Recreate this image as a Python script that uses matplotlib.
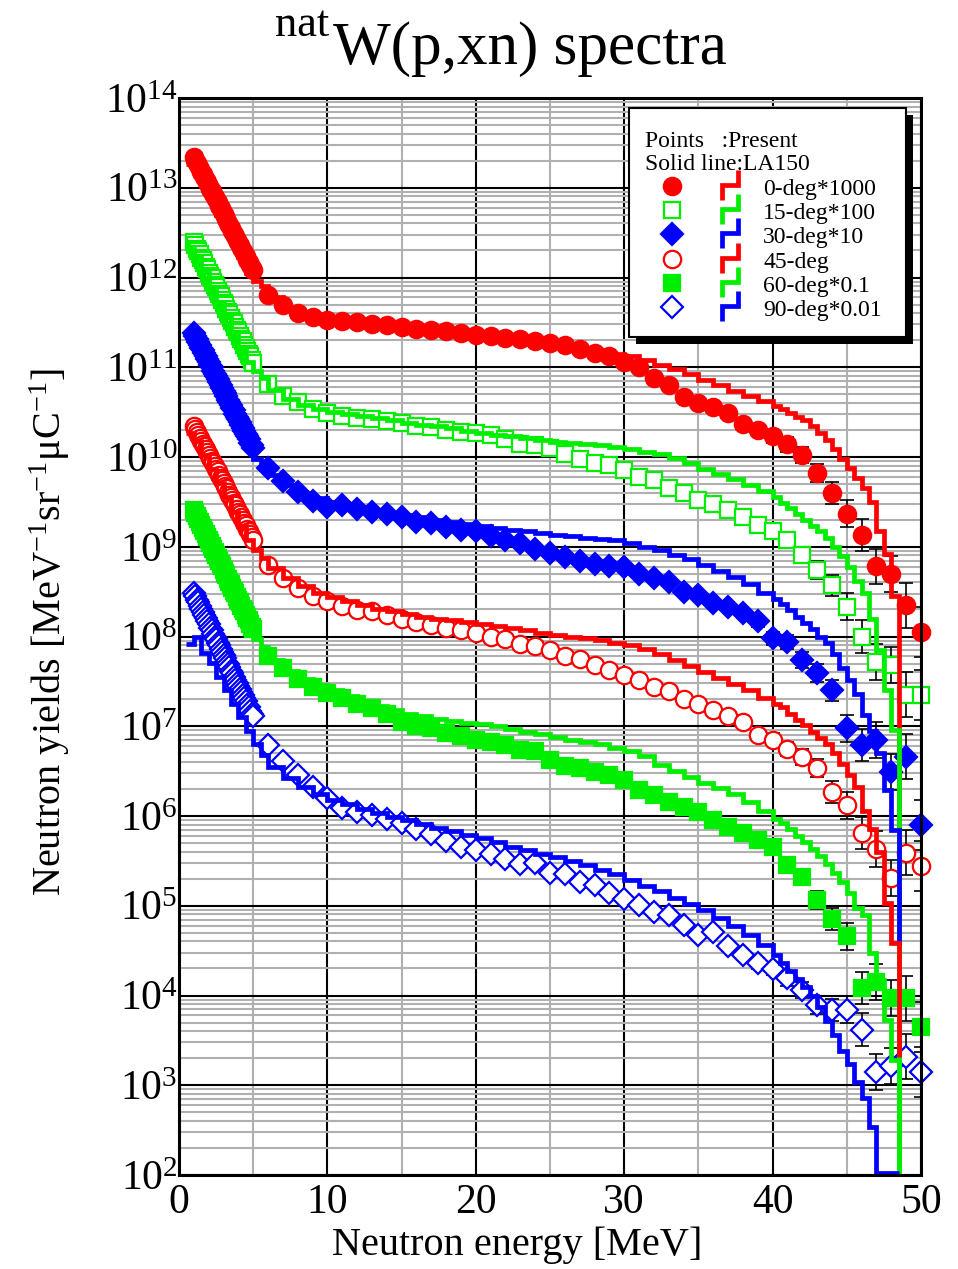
import numpy as np
import matplotlib
matplotlib.use("Agg")
import matplotlib.pyplot as plt
from matplotlib.ticker import LogLocator, FuncFormatter, MultipleLocator, NullFormatter
from matplotlib.patches import Rectangle

plt.rcParams['font.family'] = ['Liberation Serif', 'DejaVu Serif']
plt.rcParams['mathtext.fontset'] = 'custom'
plt.rcParams['mathtext.rm'] = 'Liberation Serif'
plt.rcParams['mathtext.it'] = 'Liberation Serif:italic'

# ---- measured points (log10 of plotted yield, already scaled) ----
e_low = np.arange(1.0, 5.001, 0.1)   # dense bins below 5 MeV
e_high = np.arange(6, 51)            # 1 MeV bins

p0_lo = [13.34, 13.31, 13.28, 13.25, 13.21, 13.18, 13.15, 13.12, 13.09, 13.06,
         13.02, 12.99, 12.96, 12.93, 12.90, 12.87, 12.84, 12.80, 12.77, 12.74,
         12.71, 12.68, 12.65, 12.61, 12.58, 12.55, 12.52, 12.49, 12.46, 12.42,
         12.39, 12.36, 12.33, 12.30, 12.27, 12.24, 12.20, 12.17, 12.14, 12.11, 12.08]
p15_lo = [12.39, 12.36, 12.32, 12.29, 12.26, 12.22, 12.19, 12.16, 12.12, 12.09,
          12.05, 12.02, 11.99, 11.95, 11.92, 11.89, 11.85, 11.82, 11.79, 11.75,
          11.72, 11.69, 11.65, 11.62, 11.59, 11.55, 11.52, 11.49, 11.45, 11.42,
          11.39, 11.35, 11.32, 11.29, 11.25, 11.22, 11.18, 11.15, 11.12, 11.08, 11.05]
p30_lo = [11.38, 11.35, 11.32, 11.28, 11.25, 11.22, 11.19, 11.16, 11.12, 11.09,
          11.06, 11.03, 11.00, 10.96, 10.93, 10.90, 10.87, 10.84, 10.80, 10.77,
          10.74, 10.71, 10.68, 10.64, 10.61, 10.58, 10.55, 10.52, 10.48, 10.45,
          10.42, 10.39, 10.36, 10.32, 10.29, 10.26, 10.23, 10.20, 10.16, 10.13, 10.10]
p45_lo = [10.34, 10.31, 10.28, 10.25, 10.21, 10.18, 10.15, 10.12, 10.09, 10.06,
          10.02, 9.99, 9.96, 9.93, 9.90, 9.87, 9.84, 9.80, 9.77, 9.74,
          9.71, 9.68, 9.65, 9.61, 9.58, 9.55, 9.52, 9.49, 9.46, 9.42,
          9.39, 9.36, 9.33, 9.30, 9.27, 9.24, 9.20, 9.17, 9.14, 9.11, 9.08]
p60_lo = [9.41, 9.38, 9.34, 9.31, 9.28, 9.24, 9.21, 9.18, 9.14, 9.11,
          9.08, 9.04, 9.01, 8.98, 8.94, 8.91, 8.88, 8.84, 8.81, 8.78,
          8.74, 8.71, 8.68, 8.64, 8.61, 8.58, 8.54, 8.51, 8.48, 8.44,
          8.41, 8.38, 8.34, 8.31, 8.28, 8.24, 8.21, 8.18, 8.14, 8.11, 8.08]
p90_lo = [8.48, 8.45, 8.41, 8.38, 8.34, 8.31, 8.27, 8.24, 8.21, 8.17,
          8.14, 8.10, 8.07, 8.03, 8.00, 7.97, 7.93, 7.90, 7.86, 7.83,
          7.79, 7.76, 7.72, 7.69, 7.66, 7.62, 7.59, 7.55, 7.52, 7.48,
          7.45, 7.42, 7.38, 7.35, 7.31, 7.28, 7.24, 7.21, 7.17, 7.14, 7.11]

p0_hi = [11.81, 11.69, 11.61, 11.56, 11.53, 11.52, 11.50, 11.48, 11.47, 11.45,
         11.43, 11.42, 11.40, 11.38, 11.36, 11.35, 11.33, 11.31, 11.29, 11.27,
         11.25, 11.20, 11.16, 11.12, 11.06, 11.00, 10.88, 10.80, 10.67, 10.60,
         10.56, 10.49, 10.37, 10.30, 10.23, 10.14, 10.02, 9.82, 9.60, 9.37,
         9.13, 8.78, 8.70, 8.35, 8.05]
p15_hi = [10.81, 10.68, 10.61, 10.53, 10.49, 10.46, 10.43, 10.42, 10.40, 10.38,
          10.35, 10.33, 10.30, 10.28, 10.27, 10.25, 10.20, 10.15, 10.13, 10.10,
          10.03, 9.98, 9.93, 9.91, 9.86, 9.78, 9.74, 9.65, 9.60, 9.52,
          9.48, 9.41, 9.33, 9.24, 9.17, 9.08, 8.91, 8.74, 8.57, 8.33,
          8.00, 7.72, 7.68, 7.35, 7.35]
p30_hi = [9.88, 9.73, 9.61, 9.51, 9.44, 9.46, 9.42, 9.39, 9.37, 9.33,
          9.28, 9.26, 9.22, 9.19, 9.18, 9.12, 9.08, 9.04, 8.97, 8.93,
          8.89, 8.84, 8.81, 8.79, 8.77, 8.70, 8.65, 8.61, 8.50, 8.46,
          8.37, 8.33, 8.26, 8.17, 7.98, 7.94, 7.74, 7.59, 7.40, 6.98,
          6.79, 6.85, 6.49, 6.66, 5.90]
p45_hi = [8.80, 8.65, 8.54, 8.45, 8.39, 8.34, 8.30, 8.28, 8.24, 8.20,
          8.16, 8.13, 8.09, 8.07, 8.04, 8.00, 7.97, 7.92, 7.89, 7.85,
          7.78, 7.75, 7.68, 7.63, 7.57, 7.52, 7.44, 7.39, 7.30, 7.25,
          7.18, 7.11, 7.05, 6.90, 6.85, 6.75, 6.66, 6.53, 6.27, 6.12,
          5.81, 5.63, 5.31, 5.59, 5.44]
p60_hi = [7.78, 7.65, 7.53, 7.44, 7.37, 7.31, 7.25, 7.20, 7.14, 7.05,
          7.00, 6.98, 6.93, 6.89, 6.85, 6.83, 6.79, 6.74, 6.72, 6.62,
          6.56, 6.53, 6.49, 6.46, 6.40, 6.29, 6.23, 6.16, 6.10, 6.05,
          5.96, 5.88, 5.81, 5.73, 5.66, 5.45, 5.32, 5.06, 4.85, 4.66,
          4.08, 4.15, 3.97, 3.97, 3.65]
p90_hi = [6.79, 6.61, 6.46, 6.32, 6.20, 6.09, 6.05, 6.01, 5.97, 5.92,
          5.86, 5.80, 5.72, 5.66, 5.62, 5.58, 5.52, 5.46, 5.48, 5.37,
          5.35, 5.27, 5.23, 5.14, 5.08, 5.01, 4.93, 4.90, 4.79, 4.67,
          4.71, 4.55, 4.45, 4.36, 4.30, 4.19, 4.06, 3.89, 3.84, 3.84,
          3.62, 3.15, 3.21, 3.32, 3.15]

# error half width in decades for the 1 MeV points
err_dex = [0, 0, 0, 0, 0, 0, 0, 0, 0, 0,
           0, 0, 0, 0, 0, 0, 0, 0, 0, 0,
           0, 0, 0, 0, 0, 0, 0, 0, 0.03, 0.03,
           0.04, 0.05, 0.05, 0.06, 0.07, 0.08, 0.09, 0.10, 0.12, 0.15,
           0.18, 0.20, 0.20, 0.25, 0.28]

# ---- LA150 histograms: bin edges and log10 values (last value = end of line) ----
la_edges = np.r_[np.arange(0.5, 6.01, 0.5), np.arange(7, 40.01, 1), np.arange(40.5, 48.51, 0.5)]

la0 = [13.27, 13.18, 13.02, 12.86, 12.70, 12.55, 12.39, 12.23, 12.05, 11.96, 11.91,
       11.78, 11.66, 11.59, 11.55, 11.52, 11.50, 11.49, 11.47, 11.46, 11.44, 11.43, 11.41,
       11.40, 11.38, 11.36, 11.35, 11.33, 11.31, 11.29, 11.27, 11.25, 11.22, 11.19, 11.15,
       11.12, 11.08, 11.03, 10.98, 10.92, 10.86, 10.80, 10.74, 10.68, 10.62,
       10.57, 10.53, 10.49, 10.45, 10.41, 10.35, 10.27, 10.19, 10.09, 9.98, 9.88, 9.77,
       9.66, 9.50, 9.18, 8.92, 8.45,
       3.32]
la15 = [12.32, 12.23, 12.06, 11.89, 11.72, 11.56, 11.39, 11.22, 11.06, 10.96, 10.88,
        10.75, 10.65, 10.58, 10.53, 10.50, 10.48, 10.46, 10.43, 10.41, 10.38, 10.36, 10.34,
        10.32, 10.29, 10.27, 10.25, 10.23, 10.21, 10.19, 10.17, 10.16, 10.14, 10.13, 10.11,
        10.09, 10.06, 10.03, 9.99, 9.93, 9.87, 9.81, 9.75, 9.69, 9.62,
        9.55, 9.49, 9.43, 9.36, 9.30, 9.23, 9.17, 9.10, 9.00, 8.90, 8.77, 8.62,
        8.48, 8.20, 7.85, 7.40, 6.96,
        1.0]
la30 = [11.31, 11.22, 11.06, 10.90, 10.74, 10.58, 10.42, 10.26, 10.10, 9.98, 9.91,
        9.80, 9.69, 9.60, 9.54, 9.50, 9.47, 9.44, 9.41, 9.38, 9.35, 9.33, 9.30,
        9.28, 9.25, 9.23, 9.21, 9.19, 9.17, 9.15, 9.13, 9.12, 9.10, 9.09, 9.07,
        9.04, 9.00, 8.96, 8.91, 8.86, 8.80, 8.73, 8.66, 8.58, 8.49,
        8.42, 8.36, 8.30, 8.22, 8.15, 8.08, 8.00, 7.93, 7.80, 7.65, 7.52, 7.36,
        7.12, 6.95, 6.70, 6.29, 5.84,
        4.58]
la45 = [10.27, 10.18, 10.02, 9.87, 9.71, 9.55, 9.39, 9.23, 9.08, 8.96, 8.88,
        8.76, 8.65, 8.56, 8.49, 8.44, 8.40, 8.35, 8.31, 8.28, 8.25, 8.22, 8.20,
        8.18, 8.16, 8.14, 8.12, 8.09, 8.07, 8.04, 8.02, 8.00, 7.98, 7.96, 7.93,
        7.90, 7.86, 7.80, 7.74, 7.67, 7.61, 7.54, 7.47, 7.40, 7.32,
        7.25, 7.21, 7.14, 7.07, 7.01, 6.94, 6.87, 6.80, 6.70, 6.58, 6.46, 6.32,
        6.06, 5.85, 5.60, 5.03, 4.58,
        3.32]
la60 = [9.34, 9.25, 9.08, 8.92, 8.75, 8.58, 8.42, 8.25, 8.08, 7.97, 7.88,
        7.74, 7.62, 7.53, 7.46, 7.40, 7.34, 7.28, 7.23, 7.18, 7.14, 7.11, 7.08,
        7.06, 7.04, 7.02, 7.00, 6.97, 6.94, 6.91, 6.88, 6.85, 6.82, 6.80, 6.76,
        6.72, 6.67, 6.57, 6.50, 6.43, 6.37, 6.31, 6.24, 6.16, 6.06,
        5.97, 5.92, 5.85, 5.78, 5.71, 5.63, 5.55, 5.47, 5.37, 5.26, 5.14, 4.98,
        4.90, 4.47, 4.17, 3.73, 3.28,
        1.0]
la90 = [7.92, 7.99, 7.82, 7.70, 7.55, 7.40, 7.25, 7.10, 6.95, 6.80, 6.68,
        6.55, 6.42, 6.32, 6.25, 6.18, 6.13, 6.08, 6.03, 5.99, 5.95, 5.91, 5.87,
        5.83, 5.79, 5.75, 5.71, 5.66, 5.62, 5.58, 5.54, 5.50, 5.45, 5.40, 5.35,
        5.29, 5.22, 5.16, 5.09, 5.02, 4.95, 4.86, 4.77, 4.67, 4.56,
        4.45, 4.36, 4.27, 4.18, 4.10, 4.00, 3.87, 3.72, 3.56, 3.38, 3.24, 3.04,
        2.86, 2.54, 2.02, 2.02, 2.02,
        2.02]

labels = ['0-deg*1000', '15-deg*100', '30-deg*10', '45-deg', '60-deg*0.1', '90-deg*0.01']
colors = ['#ff0000', '#00ee00', '#0000ff', '#ff0000', '#00ee00', '#0000ff']
markers = ['o', 's', 'D', 'o', 's', 'D']
filled = [True, False, True, False, True, False]
msizes = [12.5, 11, 11, 12.5, 11, 11]
pts_lo = [p0_lo, p15_lo, p30_lo, p45_lo, p60_lo, p90_lo]
pts_hi = [p0_hi, p15_hi, p30_hi, p45_hi, p60_hi, p90_hi]
la_vals = [la0, la15, la30, la45, la60, la90]

W, H = 958, 1269
fig = plt.figure(figsize=(W / 100, H / 100), dpi=100)
ax = fig.add_axes([179 / W, 94 / H, 742 / W, 1077 / H])

ax.set_xlim(0, 50)
ax.set_yscale('log')
ax.set_ylim(1e2, 1e14)
ax.xaxis.set_major_locator(MultipleLocator(10))
ax.xaxis.set_minor_locator(MultipleLocator(5))
ax.yaxis.set_major_locator(LogLocator(base=10, numticks=20))
ax.yaxis.set_minor_locator(LogLocator(base=10, subs=np.arange(2, 10), numticks=200))
ax.yaxis.set_major_formatter(FuncFormatter(lambda v, p: r'$\mathregular{10^{%d}}$' % round(np.log10(v))))
ax.yaxis.set_minor_formatter(NullFormatter())
ax.tick_params(which='both', length=0)
ax.tick_params(axis='x', labelsize=30, pad=6)
ax.tick_params(axis='y', labelsize=30, pad=1)
ax.grid(which='minor', color='#b0b0b0', lw=1.5)
ax.grid(which='major', color='black', lw=1.5)
ax.set_axisbelow(True)
for s in ax.spines.values():
    s.set_linewidth(2.2)
    s.set_zorder(6)

ehigh = np.array(e_high, dtype=float)
errs = np.array(err_dex)
for i in range(6):
    c = colors[i]
    fc = c if filled[i] else 'white'
    yhi = 10 ** np.array(pts_hi[i])
    m = errs > 0
    lo = yhi[m] - yhi[m] * 10 ** (-errs[m])
    up = yhi[m] * 10 ** errs[m] - yhi[m]
    ax.errorbar(ehigh[m], yhi[m], yerr=[lo, up], fmt='none', ecolor='black',
                elinewidth=1.2, capsize=5, capthick=1.2, zorder=2)
    ee = np.r_[e_low, ehigh]
    yy = 10 ** np.r_[pts_lo[i], pts_hi[i]]
    ax.plot(ee, yy, ls='none', marker=markers[i], ms=msizes[i], mfc=fc, mec=c,
            mew=1.6, zorder=3, clip_on=False)

for i in range(6):
    ax.step(la_edges, 10 ** np.array(la_vals[i]), where='post', color=colors[i],
            lw=3.4, zorder=4, solid_joinstyle='miter', solid_capstyle='butt')


# ---- legend box drawn in pixel positions of the axes ----
def axp(px, py):
    return ((px - 179) / 742, (1175 - py) / 1077)


x0, y0 = axp(636, 344)
ax.add_patch(Rectangle((x0, y0), 277 / 742, 229 / 1077, transform=ax.transAxes,
                       facecolor='black', edgecolor='none', zorder=9, clip_on=False))
x0, y0 = axp(629, 337)
ax.add_patch(Rectangle((x0, y0), 277 / 742, 229 / 1077, transform=ax.transAxes,
                       facecolor='white', edgecolor='black', lw=1.5, zorder=10, clip_on=False))
tx, ty = axp(645, 147)
ax.text(tx, ty, 'Points   :Present', transform=ax.transAxes, fontsize=17,
        va='baseline', ha='left', zorder=11)
tx, ty = axp(645, 170)
ax.text(tx, ty, 'Solid line:LA150', transform=ax.transAxes, fontsize=17,
        va='baseline', ha='left', zorder=11)
for i in range(6):
    cy = 186 + 24.2 * i
    c = colors[i]
    fc = c if filled[i] else 'white'
    mx, my = axp(672, cy)
    ax.plot([mx], [my], transform=ax.transAxes, marker=markers[i], ms=msizes[i],
            mfc=fc, mec=c, mew=1.6, ls='none', zorder=11, clip_on=False)
    zx = [axp(722, 0)[0], axp(722, 0)[0], axp(738, 0)[0], axp(738, 0)[0]]
    zy = [axp(0, cy + 14)[1], axp(0, cy - 1)[1], axp(0, cy - 1)[1], axp(0, cy - 16)[1]]
    ax.plot(zx, zy, transform=ax.transAxes, color=c, lw=3.4, zorder=11, clip_on=False,
            solid_joinstyle='miter', solid_capstyle='butt')
    tx, ty = axp(763, cy + 9)
    ax.text(tx, ty, labels[i], transform=ax.transAxes, fontsize=17,
            va='baseline', ha='left', zorder=11)

# ---- titles ----
fig.text(275 / W, 1 - 36 / H, 'nat', fontsize=32, ha='left', va='baseline')
fig.text(333 / W, 1 - 64 / H, 'W(p,xn) spectra', fontsize=44, ha='left', va='baseline')
fig.text(517 / W, 1 - 1255 / H, 'Neutron energy [MeV]', fontsize=29, ha='center', va='baseline')
fig.text(50 / W, 1 - 632 / H, r'Neutron yields [MeV$^{\mathregular{-1}}$sr$^{\mathregular{-1}}$μC$^{\mathregular{-1}}$]',
         fontsize=29, rotation=90, ha='center', va='center')

fig.savefig('out.png', dpi=100)
